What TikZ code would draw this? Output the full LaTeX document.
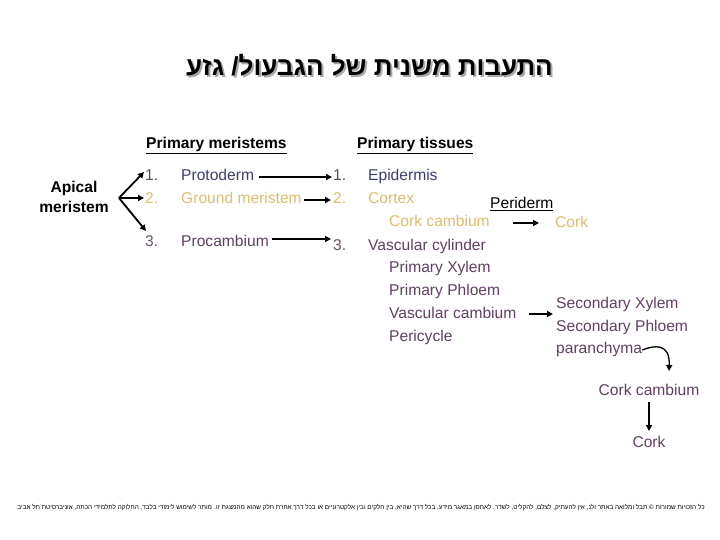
\documentclass[tikz,border=0pt]{standalone}
\usepackage{fontspec}
\setmainfont{Liberation Sans}
\newfontfamily\hebfont[Script=Hebrew]{Liberation Sans}
\TeXXeTstate=1
\usetikzlibrary{arrows.meta}
\definecolor{cblue}{HTML}{3C3C6E}
\definecolor{cyel}{HTML}{DCBC6E}
\definecolor{cpur}{HTML}{5E4060}
\definecolor{cgray}{HTML}{505050}
\definecolor{cshadow}{HTML}{A8A8A8}
\tikzset{
  txt/.style={anchor=base west, inner sep=0pt, font=\fontsize{15.6}{18}\selectfont},
  arr/.style={-{Triangle[length=6pt,width=6pt]}, line width=1.8pt, black},
}
\begin{document}
\begin{tikzpicture}[x=1pt,y=-1pt]
\useasboundingbox (0,0) rectangle (720,540);
% title
\node[font=\fontsize{26}{30}\selectfont\bfseries\hebfont, text=cshadow, inner sep=0pt] (titleshadow) at (371.5,67) {\beginR התעבות משנית של הגבעול/ גזע\endR};
\node[font=\fontsize{26}{30}\selectfont\bfseries\hebfont, inner sep=0pt] (title) at (369.5,65) {\beginR התעבות משנית של הגבעול/ גזע\endR};
% headers
\node[txt, font=\fontsize{15.6}{18}\selectfont\bfseries] (pm) at (146,149) {\underline{Primary meristems}};
\node[txt, font=\fontsize{15.6}{18}\selectfont\bfseries] (pt) at (357,149) {\underline{Primary tissues}};
% apical
\node[align=center, inner sep=0pt, font=\fontsize{15.6}{20}\selectfont\bfseries] (apical) at (74,197) {Apical\\meristem};
\coordinate (fork) at (119,198);
% left column
\node[txt, text=cgray] (n1) at (145,181) {1.};
\node[txt, text=cblue] (proto) at (181,181) {Protoderm};
\node[txt, text=cyel] (n2) at (145,204) {2.};
\node[txt, text=cyel] (ground) at (181,204) {Ground meristem};
\node[txt, text=cpur!70!gray] (n3) at (145,246) {3.};
\node[txt, text=cpur] (procamb) at (181,246) {Procambium};
% right column
\node[txt, text=cgray] (m1) at (333,181) {1.};
\node[txt, text=cblue] (epid) at (368,181) {Epidermis};
\node[txt, text=cyel] (m2) at (333,204) {2.};
\node[txt, text=cyel] (cortex) at (368,204) {Cortex};
\node[txt, text=cyel] (corkcamb) at (389,226) {Cork cambium};
\node[txt] (periderm) at (490,209) {\underline{Periderm}};
\node[txt, text=cyel] (cork) at (555,227) {Cork};
\node[txt, text=cpur!70!gray] (m3) at (333,250) {3.};
\node[txt, text=cpur] (vcyl) at (368,250) {Vascular cylinder};
\node[txt, text=cpur] (pxyl) at (389,272) {Primary Xylem};
\node[txt, text=cpur] (pphl) at (389,295) {Primary Phloem};
\node[txt, text=cpur] (vcamb) at (389,318) {Vascular cambium};
\node[txt, text=cpur] (peri) at (389,341) {Pericycle};
\node[txt, text=cpur] (sxyl) at (556,308) {Secondary Xylem};
\node[txt, text=cpur] (sphl) at (556,331) {Secondary Phloem};
\node[txt, text=cpur] (paran) at (556,353) {paranchyma};
\node[inner sep=0pt, font=\fontsize{15.6}{18}\selectfont, text=cpur] (corkcamb2) at (649,390) {Cork cambium};
\node[inner sep=0pt, font=\fontsize{15.6}{18}\selectfont, text=cpur] (cork2) at (649,442) {Cork};
% arrows
\draw[arr] (fork) -- (144,172);
\draw[arr] (fork) -- (144,198);
\draw[arr] (fork) -- (146,231);
\draw[arr] (proto.east |- 0,177) ++(5,0) -- (332,177);
\draw[arr] (ground.east |- 0,200) ++(2,0) -- (331,200);
\draw[arr] (procamb.east |- 0,239) ++(3,0) -- (331,239);
\draw[arr] (513,223) -- (539,223);
\draw[arr] (529,314) -- (553,314);
\draw[-{Triangle[length=6pt,width=6pt]}, line width=1.3pt] (paran.east |- 0,350) .. controls (655,345) and (670,343) .. (669,371);
\draw[arr] (corkcamb2.south) ++(0,6) -- (649,431);
% footer
\node[inner sep=0pt] (footer) at (361,508) {\resizebox{687pt}{!}{\fontsize{7}{8}\selectfont\hebfont\beginR כל הזכויות שמורות © תבל ומלואה באתר ולנ, אין להעתיק, לצלם, להקליט, לשדר, לאחסן במאגר מידע, בכל דרך שהיא, בין חלקים ובין אלקטרוניים או בכל דרך אחרת חלק שהוא מהמצגת זו. מותר לשימוש לימודי בלבד, החלוקה לתלמידי הכתה, אוניברסיטת תל אביב\endR}};
\end{tikzpicture}
\end{document}
